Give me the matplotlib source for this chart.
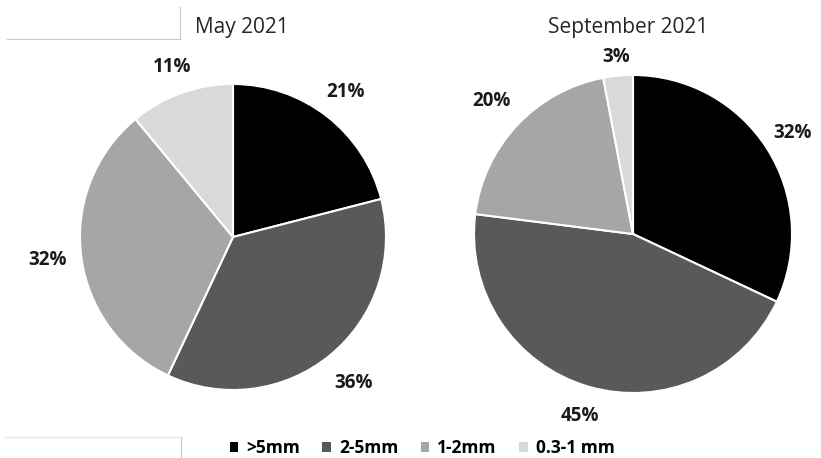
import numpy as np
import matplotlib.pyplot as plt
from matplotlib.patches import Patch
from matplotlib.lines import Line2D

plt.rcParams['font.family'] = ['Open Sans', 'DejaVu Sans']

categorias = ['>5mm', '2-5mm', '1-2mm', '0.3-1 mm']
cores = ['#000000', '#595959', '#a6a6a6', '#d9d9d9']
maio = [21, 36, 32, 11]
setembro = [32, 45, 20, 3]
titulos = ['May 2021', 'September 2021']

W, H = 821, 458
fig = plt.figure(figsize=(W / 100, H / 100), dpi=100)


def eixo_pixel(cx, cy, r):
    # eixo quadrado em pixels, centro (cx, cy) medido a partir do topo
    return fig.add_axes([(cx - r) / W, (H - cy - r) / H, 2 * r / W, 2 * r / H])


def desenhar(ax, valores, dists):
    wedges, _, textos = ax.pie(valores, colors=cores, startangle=90, counterclock=False,
                               autopct='%d%%', radius=1,
                               wedgeprops=dict(edgecolor='white', linewidth=1.5),
                               textprops=dict(fontsize=13.5, fontweight='bold', color='#1a1a1a'))
    # afastar cada rótulo do centro
    for w, t, d in zip(wedges, textos, dists):
        ang = np.deg2rad((w.theta1 + w.theta2) / 2)
        t.set_position((d * np.cos(ang), d * np.sin(ang)))
    ax.set_xlim(-1, 1)
    ax.set_ylim(-1, 1)


ax1 = eixo_pixel(233, 237, 153)
desenhar(ax1, maio, [1.2, 1.24, 1.22, 1.18])
ax2 = eixo_pixel(633, 234, 159)
desenhar(ax2, setembro, [1.19, 1.19, 1.22, 1.12])

fig.text(242 / W, 1 - 28 / H, titulos[0], ha='center', va='center', fontsize=15, color='#262626')
fig.text(628 / W, 1 - 28 / H, titulos[1], ha='center', va='center', fontsize=15, color='#262626')

# linhas cinza soltas nos cantos
cinza = '#c8c8c8'
fig.add_artist(Line2D([7 / W, 180 / W], [1 - 39 / H, 1 - 39 / H], color=cinza, lw=0.8))
fig.add_artist(Line2D([180 / W, 180 / W], [1 - 7 / H, 1 - 39 / H], color=cinza, lw=0.8))
fig.add_artist(Line2D([5 / W, 181 / W], [1 - 437 / H, 1 - 437 / H], color='#e6e6e6', lw=0.8))
fig.add_artist(Line2D([181 / W, 181 / W], [1 - 437 / H, 0], color=cinza, lw=0.8))

legenda = [Patch(facecolor=c, label=l) for c, l in zip(cores, categorias)]
fig.legend(handles=legenda, loc='center', bbox_to_anchor=(422 / W, 1 - 448 / H), ncol=4,
           frameon=False, handlelength=0.5, handleheight=0.5, handletextpad=0.45,
           columnspacing=1.3, prop=dict(size=12.5, weight='bold'))

fig.savefig('out.png', dpi=100)
